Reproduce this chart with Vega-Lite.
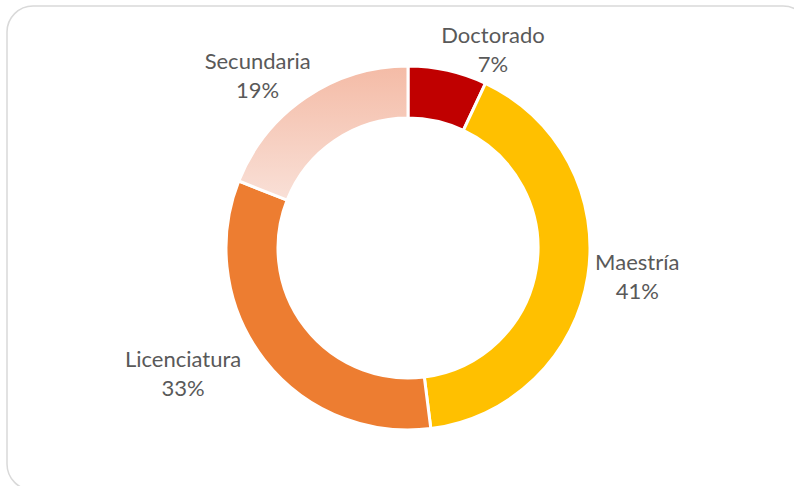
{
  "$schema": "https://vega.github.io/schema/vega-lite/v6.json",
  "width": 802,
  "height": 484,
  "autosize": {"type": "none"},
  "padding": {"left": 7, "top": 6, "right": -15, "bottom": -4},
  "background": "white",
  "config": {
    "view": {"stroke": null},
    "text": {"font": "Lato"}
  },
  "layer": [
    {
      "data": {"values": [{"frame": 1}]},
      "mark": {"type": "rect", "fill": "white", "stroke": "#d9d9d9", "strokeWidth": 1.5, "cornerRadius": 26},
      "encoding": {}
    },
    {
      "data": {"name": "edu", "values": [
        {"cat": "Doctorado", "pct": 7},
        {"cat": "Maestría", "pct": 41},
        {"cat": "Licenciatura", "pct": 33},
        {"cat": "Secundaria", "pct": 19}
      ]},
      "transform": [
        {"window": [{"op": "row_number", "as": "idx"}]},
        {"calculate": "datum.cat + '\\n' + datum.pct + '%'", "as": "label"}
      ],
      "layer": [
        {
          "mark": {"type": "arc", "outerRadius": 182, "innerRadius": 130, "stroke": "white", "strokeWidth": 3},
          "encoding": {
            "theta": {"field": "pct", "type": "quantitative", "stack": true},
            "order": {"field": "idx", "type": "quantitative"},
            "color": {
              "condition": {
                "test": "datum.cat === 'Secundaria'",
                "value": {"gradient": "linear", "x1": 0, "y1": 0, "x2": 0, "y2": 1,
                  "stops": [{"offset": 0, "color": "#F4BBA6"}, {"offset": 1, "color": "#F9E0D7"}]}
              },
              "field": "cat",
              "type": "nominal",
              "scale": {"domain": ["Doctorado", "Maestría", "Licenciatura", "Secundaria"], "range": ["#C00000", "#FFC000", "#ED7D31", "#F6CDBE"]},
              "legend": null
            }
          }
        },
        {
          "mark": {
            "type": "text",
            "fontSize": 22,
            "lineHeight": 29,
            "lineBreak": "\n",
            "color": "#595959",
            "align": "center",
            "radius": {"expr": "cos(PI*(datum.pct_start+datum.pct_end)/100) > 0.7 ? (abs(sin(PI*(datum.pct_start+datum.pct_end)/100)) > 0.2 ? 175 : 190) : (cos(PI*(datum.pct_start+datum.pct_end)/100) < -0.7 ? 190 : 190 + 50*max(0, abs(cos(PI*(datum.pct_start+datum.pct_end)/100)) - 0.3))"},
            "dx": {"expr": "(sin(PI*(datum.pct_start+datum.pct_end)/100) > 0.2 ? 1 : (sin(PI*(datum.pct_start+datum.pct_end)/100) < -0.2 ? -1 : 0)) * length(datum.cat) * 5.2"},
            "dy": {"expr": "cos(PI*(datum.pct_start+datum.pct_end)/100) > 0.7 ? -29 : (cos(PI*(datum.pct_start+datum.pct_end)/100) < -0.7 ? 0 : -14.5)"},
            "baseline": {"expr": "cos(PI*(datum.pct_start+datum.pct_end)/100) > 0.7 ? 'bottom' : (cos(PI*(datum.pct_start+datum.pct_end)/100) < -0.7 ? 'top' : 'middle')"}
          },
          "encoding": {
            "theta": {"field": "pct", "type": "quantitative", "stack": true},
            "order": {"field": "idx", "type": "quantitative"},
            "text": {"field": "label", "type": "nominal"}
          }
        }
      ]
    }
  ]
}
